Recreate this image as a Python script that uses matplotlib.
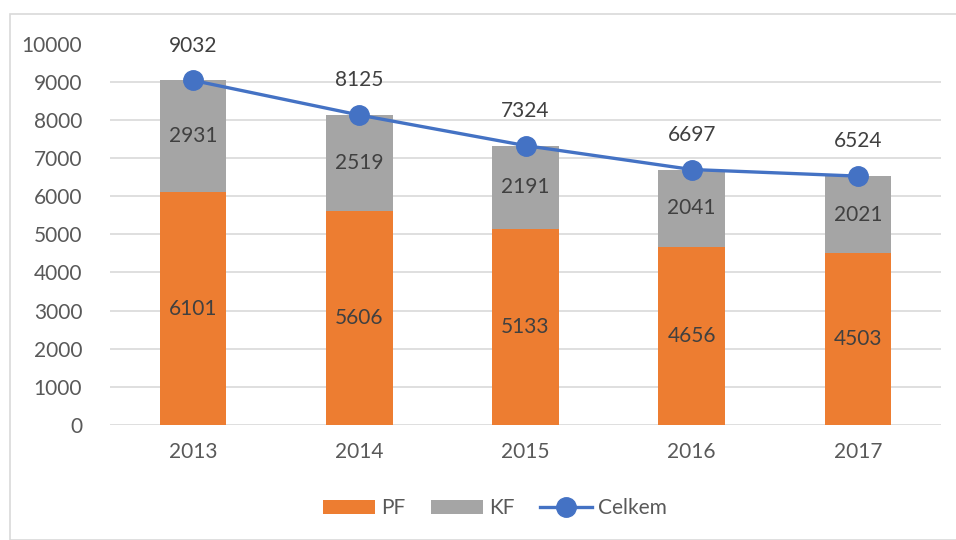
import matplotlib
matplotlib.use("Agg")
import matplotlib.pyplot as plt
from matplotlib.patches import Rectangle

years = ["2013", "2014", "2015", "2016", "2017"]
pf = [6101, 5606, 5133, 4656, 4503]
kf = [2931, 2519, 2191, 2041, 2021]
total = [9032, 8125, 7324, 6697, 6524]

plt.rcParams['font.family'] = ['Lato', 'DejaVu Sans']

fig = plt.figure(figsize=(9.56, 5.4), dpi=100)
fig.patches.append(Rectangle((10/956, 0), 1.2, 1 - 14/540, transform=fig.transFigure,
                             fill=False, edgecolor='#D9D9D9', linewidth=1.2))
ax = fig.add_axes([110/956, 1 - 425/540, 831/956, (425 - 43.5)/540])

x = list(range(len(years)))
w = 0.40
b1 = ax.bar(x, pf, width=w, color='#ED7D31', label='PF', zorder=2)
b2 = ax.bar(x, kf, width=w, bottom=pf, color='#A5A5A5', label='KF', zorder=2)
l1, = ax.plot(x, total, color='#4472C4', linewidth=2.4, marker='o', markersize=14, label='Celkem', zorder=3)

for i in x:
    ax.text(i, pf[i] / 2, str(pf[i]), ha='center', va='center', fontsize=15, color='#404040', zorder=4)
    ax.text(i, pf[i] + kf[i] / 2, str(kf[i]), ha='center', va='center', fontsize=15, color='#404040', zorder=4)
    ax.annotate(str(total[i]), (i, total[i]), xytext=(0, 25), textcoords='offset points',
                ha='center', va='center', fontsize=15, color='#404040', zorder=4)

ax.set_xlim(-0.5, 4.5)
ax.set_ylim(0, 10000)
ax.set_yticks(range(0, 10001, 1000))
ax.set_xticks(x)
ax.set_xticklabels(years)
ax.tick_params(axis='both', length=0, labelsize=15, labelcolor='#595959')
ax.tick_params(axis='x', pad=12)
ax.tick_params(axis='y', pad=20)
ax.grid(axis='y', color='#D9D9D9', linewidth=1.2, zorder=0)
ax.set_axisbelow(True)
for s in ax.spines.values():
    s.set_visible(False)

leg = fig.legend([b1, b2, l1], ['PF', 'KF', 'Celkem'], loc='center',
                 bbox_to_anchor=(495/956, 1 - 508/540), ncol=3, frameon=False,
                 fontsize=15, handlelength=2.5, handleheight=0.65, columnspacing=1.2, handletextpad=0.3)
for t in leg.get_texts():
    t.set_color('#595959')

fig.savefig("out.png", dpi=100)
